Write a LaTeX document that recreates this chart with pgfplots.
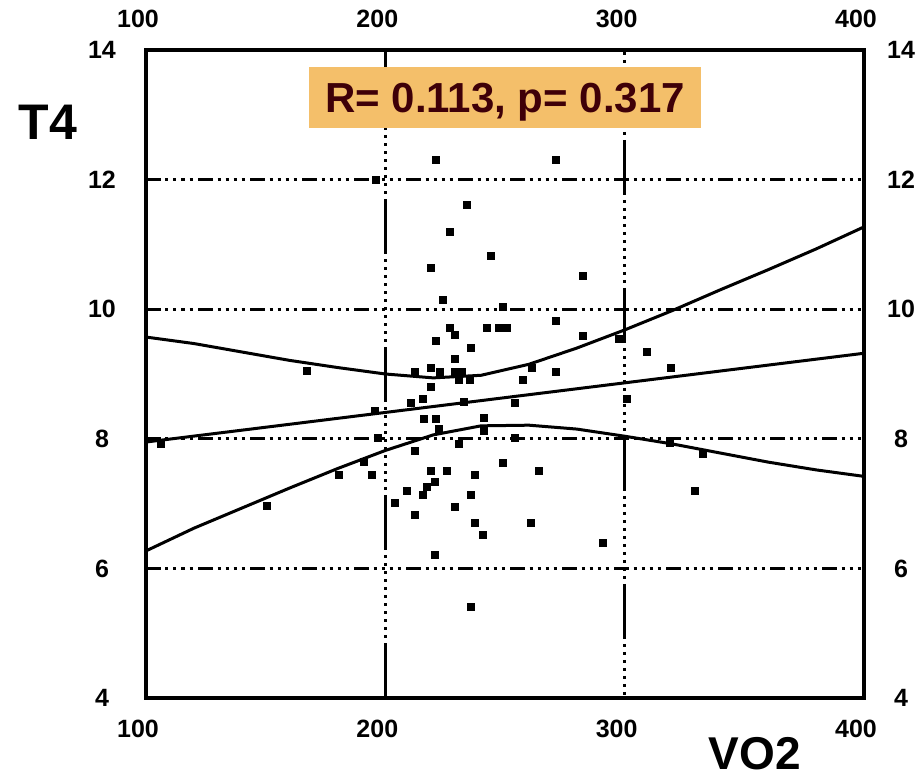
\documentclass[border=0pt]{standalone}
\usepackage{fontspec}
\setmainfont{Liberation Sans}
\usepackage{pgfplots}
\usepackage{pgfplotstable}
\pgfplotsset{compat=1.18}
\definecolor{boxor}{HTML}{F4BF6A}
\definecolor{txtred}{HTML}{3F0008}
\pgfplotstableread{
x y
196 12.00
221 12.30
271 12.30
234 11.62
227 11.20
244 10.82
219 10.64
282.5 10.51
224 10.14
249 10.04
271 9.83
227 9.72
229 9.60
242.5 9.72
247.5 9.72
250.8 9.72
221 9.52
282.5 9.59
235.6 9.41
229 9.23
212.4 9.04
219 9.10
222.8 9.04
229 9.04
232 9.04
230.5 8.91
235.4 8.91
219 8.81
261 9.10
257.4 8.91
271 9.04
210.7 8.56
215.6 8.62
195.7 8.43
232.6 8.57
253.9 8.56
216 8.31
221 8.31
241 8.32
241 8.12
222.4 8.15
230.5 7.93
253.9 8.02
197 8.02
212.4 7.82
249.2 7.63
219.1 7.51
225.8 7.51
264.2 7.51
194.5 7.45
237.5 7.45
208.9 7.20
215.6 7.14
217.3 7.26
220.7 7.34
204 7.01
235.8 7.14
229.1 6.95
212.4 6.83
237.5 6.71
260.9 6.71
240.8 6.52
290.9 6.40
220.7 6.21
235.8 5.41
297.4 9.54
309.2 9.34
319.4 9.09
300.8 8.62
329.4 7.20
332.4 7.77
167.1 9.05
150.4 6.96
180.4 7.44
106 7.93
190.8 7.64
319 7.94
}\pts
\tikzset{
 gridh/.style={line width=3pt, dash pattern=on 15pt off 4.5pt on 3pt off 5pt on 3pt off 5pt on 3pt off 5pt on 3pt off 5.5pt},
 gridv/.style={line width=3.5pt, dash pattern=on 55pt off 5pt on 3pt off 5pt on 3pt off 5pt on 3pt off 5pt on 3pt off 5pt on 3pt off 5pt on 3pt off 5pt on 3pt off 5pt on 3pt off 5pt on 3pt off 5pt on 3pt off 5pt on 3pt off 5pt}
}
\begin{document}
\begin{tikzpicture}
\begin{axis}[name=ax, scale only axis, width=718pt, height=648pt,
  xmin=100, xmax=400, ymin=4, ymax=14,
  xtick={100,200,300,400}, ytick={4,6,8,10,12,14},
  major tick length=0pt, tick style={draw=none},
  axis line style={line width=3.5pt},
  /pgf/number format/assume math mode=true,
  tick label style={font=\fontsize{25}{25}\selectfont\bfseries},
  xticklabel style={anchor=center, yshift=-31pt, xshift=-8pt},
  yticklabel style={anchor=center, xshift=-44pt}]
\draw[gridh] (axis cs:100,6) -- (axis cs:400,6);
\draw[gridh] (axis cs:100,8) -- (axis cs:400,8);
\draw[gridh] (axis cs:100,10) -- (axis cs:400,10);
\draw[gridh] (axis cs:100,12) -- (axis cs:400,12);
\draw[gridv] (axis cs:200,4) -- (axis cs:200,14);
\draw[gridv, dash phase=58pt] (axis cs:300,14) -- (axis cs:300,4);
\addplot[black, line width=3pt] coordinates {(100,7.95) (400,9.32)};
\addplot[black, line width=3pt] coordinates {(100,9.57)(120,9.47)(140,9.34)(160,9.21)(180,9.10)(200,9.00)(220,8.94)(240,8.98)(260,9.15)(280,9.40)(300,9.68)(320,9.98)(340,10.30)(360,10.61)(380,10.93)(400,11.27)};
\addplot[black, line width=3pt] coordinates {(100,6.27)(120,6.62)(140,6.93)(160,7.24)(180,7.54)(200,7.82)(220,8.06)(240,8.20)(260,8.21)(280,8.15)(300,8.04)(320,7.92)(340,7.78)(360,7.64)(380,7.52)(400,7.42)};
\addplot[only marks, mark=square*, mark size=3.5pt, black] table {\pts};
\end{axis}
\begin{axis}[scale only axis, width=718pt, height=648pt,
  xmin=100, xmax=400, ymin=4, ymax=14,
  xtick={100,200,300,400}, ytick={4,6,8,10,12,14},
  major tick length=0pt, tick style={draw=none},
  axis line style={draw=none},
  xticklabel pos=upper, yticklabel pos=right,
  /pgf/number format/assume math mode=true,
  tick label style={font=\fontsize{25}{25}\selectfont\bfseries},
  xticklabel style={anchor=center, yshift=31pt, xshift=-8pt},
  yticklabel style={anchor=center, xshift=37pt}]
\end{axis}
\node[fill=boxor, minimum width=392pt, minimum height=61pt, inner sep=0pt, text depth=0pt, text=txtred, font=\fontsize{42}{42}\selectfont\bfseries] at ([shift={(359pt,600.5pt)}]ax.south west) {R= 0.113, p= 0.317};
\node[font=\fontsize{50}{50}\selectfont\bfseries, inner sep=0pt] at ([shift={(-98pt,576pt)}]ax.south west) {T4};
\node[font=\fontsize{46}{46}\selectfont\bfseries, inner sep=0pt, anchor=base] at ([shift={(609pt,-72pt)}]ax.south west) {VO2};
\pgfresetboundingbox
\path[use as bounding box] ([shift={(-146pt,-83pt)}]ax.south west) rectangle ([shift={(54pt,50pt)}]ax.north east);
\end{tikzpicture}
\end{document}
